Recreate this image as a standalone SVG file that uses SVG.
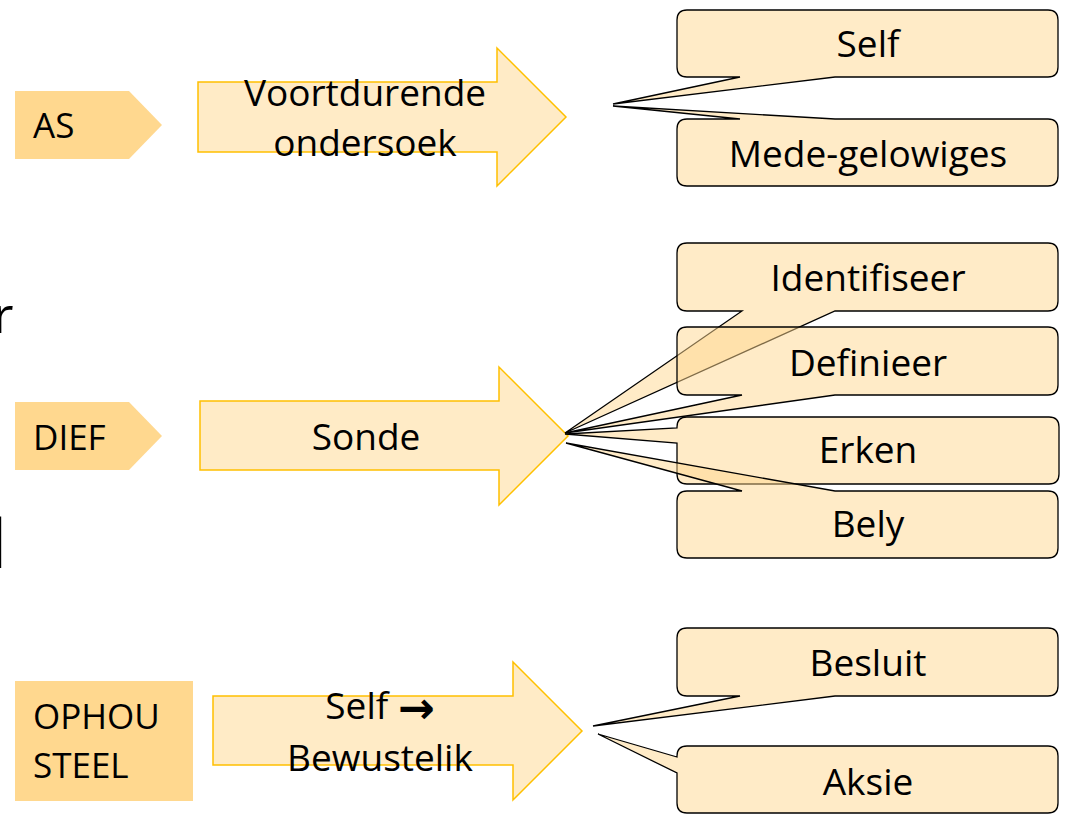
<svg xmlns="http://www.w3.org/2000/svg" width="1067" height="818" viewBox="0 0 1067 818">
<style>
text{font-family:"Open Sans","Liberation Sans",sans-serif;fill:#000}
.lbl{font-size:35px}
.t{font-size:37px;text-anchor:middle}
.tag{fill:#FFD88F;stroke:none}
.arr{fill:#FFEBC6;stroke:#FFC000;stroke-width:1.5}
.co{fill:#FFD78F;fill-opacity:0.5;stroke:#000;stroke-width:1.3;stroke-linejoin:miter}
</style>
<rect width="1067" height="818" fill="#fff"/>
<text x="-7" y="333" style="font-size:50px">r</text>
<text x="-10" y="568" style="font-size:67px">l</text>

<g id="row1">
<g id="as"><path class="tag" d="M15 91H129L162 125L129 159H15Z"/><text class="lbl" x="33" y="138">AS</text></g>
<g id="voortdurende"><path class="arr" d="M198 82H497V48L566 117L497 186V152H198Z"/><text class="t" x="365" y="106">Voortdurende</text><text class="t" x="365" y="156">ondersoek</text></g>
</g>
<g id="row2">
<g id="dief"><path class="tag" d="M15 402H129L162 436L129 470H15Z"/><text class="lbl" x="33" y="450">DIEF</text></g>
<g id="sonde"><path class="arr" d="M200 401H499V367L568 436L499 505V470H200Z"/><text class="t" x="366" y="450">Sonde</text></g>
</g>
<g id="row3">
<g id="ophou"><rect class="tag" x="15" y="681" width="178" height="120"/><text class="lbl" x="33" y="729">OPHOU</text><text class="lbl" x="33" y="778">STEEL</text></g>
<g id="self-bewustelik"><path class="arr" d="M213 696H513V662L582 731L513 800V765H213Z"/><text class="t" x="380" y="719">Self <tspan font-family="DejaVu Sans" font-weight="bold" font-size="44" dy="4">→</tspan></text><text class="t" x="380" y="771">Bewustelik</text></g>
</g>

<g id="callouts">
<g id="self"><path class="co" d="M687 10H1048Q1058 10 1058 20V67Q1058 77 1048 77H835L613 104L740 77H687Q677 77 677 67V20Q677 10 687 10Z"/><text class="t" x="868" y="57">Self</text></g>
<g id="mede"><path class="co" d="M687 119H740L613 106L835 119H1048Q1058 119 1058 129V176Q1058 186 1048 186H687Q677 186 677 176V129Q677 119 687 119Z"/><text class="t" x="868" y="167">Mede-gelowiges</text></g>
<g id="identifiseer"><path class="co" d="M687 243H1048Q1058 243 1058 253V301Q1058 311 1048 311H835L565 433L742 311H687Q677 311 677 301V253Q677 243 687 243Z"/><text class="t" x="868" y="291">Identifiseer</text></g>
<g id="definieer"><path class="co" d="M687 327H1048Q1058 327 1058 337V385Q1058 395 1048 395H835L565 433L742 395H687Q677 395 677 385V337Q677 327 687 327Z"/><text class="t" x="868" y="376">Definieer</text></g>
<g id="erken"><path class="co" d="M687 417H1049Q1059 417 1059 427V474Q1059 484 1049 484H687Q677 484 677 474V443L565 434L677 428V427Q677 417 687 417Z"/><text class="t" x="868" y="463">Erken</text></g>
<g id="bely"><path class="co" d="M687 491H742L566 443L835 491H1048Q1058 491 1058 501V548Q1058 558 1048 558H687Q677 558 677 548V501Q677 491 687 491Z"/><text class="t" x="868" y="537">Bely</text></g>
<g id="besluit"><path class="co" d="M687 628H1048Q1058 628 1058 638V686Q1058 696 1048 696H835L593 726L740 696H687Q677 696 677 686V638Q677 628 687 628Z"/><text class="t" x="868" y="676">Besluit</text></g>
<g id="aksie"><path class="co" d="M687 746H1048Q1058 746 1058 756V803Q1058 813 1048 813H687Q677 813 677 803V773L598 734L677 757V756Q677 746 687 746Z"/><text class="t" x="868" y="795">Aksie</text></g>
</g>
</svg>
